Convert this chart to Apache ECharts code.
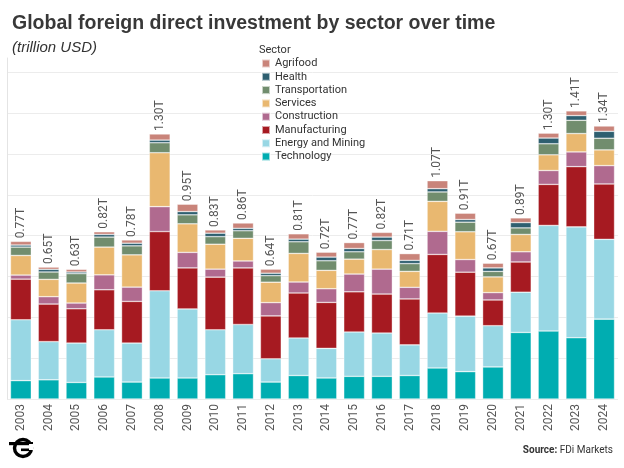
<!DOCTYPE html>
<html>
<head>
<meta charset="utf-8">
<script src="https://cdn.jsdelivr.net/npm/echarts@6/dist/echarts.min.js"></script>
<style>
html,body{margin:0;padding:0;background:#fff;}
#chart{width:624px;height:468px;}
</style>
</head>
<body>
<div id="chart"></div>
<script>
var years = ['2003','2004','2005','2006','2007','2008','2009','2010','2011','2012','2013','2014','2015','2016','2017','2018','2019','2020','2021','2022','2023','2024'];
var totals = [0.77,0.65,0.63,0.82,0.78,1.30,0.95,0.83,0.86,0.64,0.81,0.72,0.77,0.82,0.71,1.07,0.91,0.67,0.89,1.30,1.41,1.34];
var technology = [0.090,0.094,0.081,0.108,0.083,0.103,0.103,0.119,0.124,0.083,0.115,0.103,0.111,0.111,0.115,0.152,0.134,0.157,0.326,0.333,0.300,0.391];
var energyMining = [0.298,0.187,0.193,0.231,0.191,0.427,0.338,0.220,0.241,0.114,0.184,0.145,0.217,0.212,0.150,0.269,0.272,0.202,0.197,0.517,0.543,0.391];
var manufacturing = [0.199,0.184,0.168,0.196,0.204,0.290,0.201,0.258,0.277,0.210,0.220,0.225,0.197,0.191,0.225,0.287,0.215,0.126,0.148,0.201,0.295,0.271];
var construction = [0.020,0.036,0.028,0.073,0.070,0.122,0.076,0.039,0.034,0.065,0.054,0.067,0.087,0.122,0.057,0.113,0.062,0.036,0.050,0.068,0.072,0.090];
var services = [0.096,0.085,0.098,0.136,0.158,0.264,0.140,0.122,0.111,0.100,0.140,0.090,0.073,0.096,0.078,0.147,0.136,0.077,0.085,0.077,0.090,0.077];
var transportation = [0.041,0.036,0.046,0.049,0.044,0.049,0.044,0.037,0.037,0.032,0.057,0.047,0.036,0.044,0.038,0.046,0.047,0.027,0.032,0.054,0.065,0.057];
var health = [0.010,0.013,0.008,0.013,0.013,0.013,0.016,0.017,0.012,0.012,0.013,0.018,0.016,0.017,0.016,0.016,0.013,0.017,0.026,0.028,0.023,0.034];
var agrifood = [0.018,0.011,0.013,0.013,0.016,0.030,0.036,0.016,0.026,0.020,0.026,0.024,0.029,0.023,0.033,0.039,0.031,0.023,0.023,0.024,0.023,0.026];

var sectorNames = ['Technology','Energy and Mining','Manufacturing','Construction','Services','Transportation','Health','Agrifood'];
var sectorData = [technology, energyMining, manufacturing, construction, services, transportation, health, agrifood];
var sectorColors = ['#00adb1','#98d7e4','#a61a21','#b06a8f','#e9b870','#718d6e','#2e5f70','#c9847a'];
var legendOrder = ['Agrifood','Health','Transportation','Services','Construction','Manufacturing','Energy and Mining','Technology'];

var chart = echarts.init(document.getElementById('chart'));

var series = sectorNames.map(function(name, i){
  var s = {
    name: name,
    type: 'bar',
    stack: 'total',
    data: sectorData[i],
    barCategoryGap: '25%',
    itemStyle: { color: sectorColors[i], borderColor: 'rgba(255,255,255,0.6)', borderWidth: 0.6 },
    emphasis: { disabled: true }
  };
  if (name === 'Agrifood') {
    s.label = {
      show: true,
      position: 'top',
      rotate: 90,
      align: 'left',
      verticalAlign: 'middle',
      distance: 3,
      fontSize: 12,
      fontFamily: 'Roboto',
      color: '#555',
      formatter: function(p){ return totals[p.dataIndex].toFixed(2) + 'T'; }
    };
  }
  return s;
});

var gridColors = [];
for (var k = 0; k < 9; k++) gridColors.push('#ececec');
gridColors.push('rgba(0,0,0,0)');

chart.setOption({
  animation: false,
  backgroundColor: '#fff',
  title: [
    {
      text: 'Global foreign direct investment by sector over time',
      subtext: '(trillion USD)',
      left: 7,
      top: 9,
      itemGap: 6,
      textStyle: { fontFamily: 'Liberation Sans', fontWeight: 'bold', fontSize: 19.5, color: '#383838' },
      subtextStyle: { fontFamily: 'Liberation Sans', fontStyle: 'italic', fontSize: 15, color: '#333' }
    },
    {
      text: 'Sector',
      left: 259,
      top: 45,
      padding: 0,
      textStyle: { fontFamily: 'Roboto', fontWeight: 'normal', fontSize: 11, color: '#333' }
    },
    {
      text: '{b|Source:} FDi Markets',
      right: 11,
      top: 445,
      padding: 0,
      textStyle: {
        fontFamily: 'Roboto', fontWeight: 'normal', fontSize: 10, color: '#333',
        rich: { b: { fontFamily: 'Roboto', fontWeight: 'bold', fontSize: 10, color: '#333' } }
      }
    }
  ],
  legend: {
    data: legendOrder,
    orient: 'vertical',
    left: 261,
    top: 57,
    padding: 0,
    itemWidth: 8,
    itemHeight: 8,
    itemGap: 0.3,
    icon: 'rect',
    selectedMode: false,
    textStyle: { fontFamily: 'Roboto', fontSize: 11, color: '#333', lineHeight: 13 }
  },
  grid: { left: 7, right: 6, top: 58, bottom: 69, containLabel: false },
  xAxis: {
    type: 'category',
    data: years,
    axisLine: { show: false },
    axisTick: { show: false },
    axisLabel: { rotate: 90, margin: 5, fontSize: 12, fontFamily: 'Roboto', color: '#555' }
  },
  yAxis: {
    type: 'value',
    min: 0,
    max: 1.67,
    interval: 0.2,
    axisLabel: { show: false },
    axisTick: { show: false },
    axisLine: { show: true, lineStyle: { color: '#e4e4e4', width: 1 } },
    splitLine: { show: true, lineStyle: { color: gridColors, width: 1 } }
  },
  graphic: [
    {
      type: 'group',
      left: 9,
      top: 437,
      children: [
        { type: 'circle', shape: { cx: 14, cy: 13, r: 8.5 }, style: { fill: 'none', stroke: '#000', lineWidth: 3.4 } },
        { type: 'rect', shape: { x: 0, y: 7, width: 24, height: 3.2 }, style: { fill: '#000' } },
        { type: 'rect', shape: { x: 12, y: 13.5, width: 10, height: 2.6 }, style: { fill: '#000' } },
        { type: 'rect', shape: { x: 20, y: 9, width: 4, height: 6 }, style: { fill: '#fff' } }
      ]
    }
  ],
  series: series
});
</script>
</body>
</html>
